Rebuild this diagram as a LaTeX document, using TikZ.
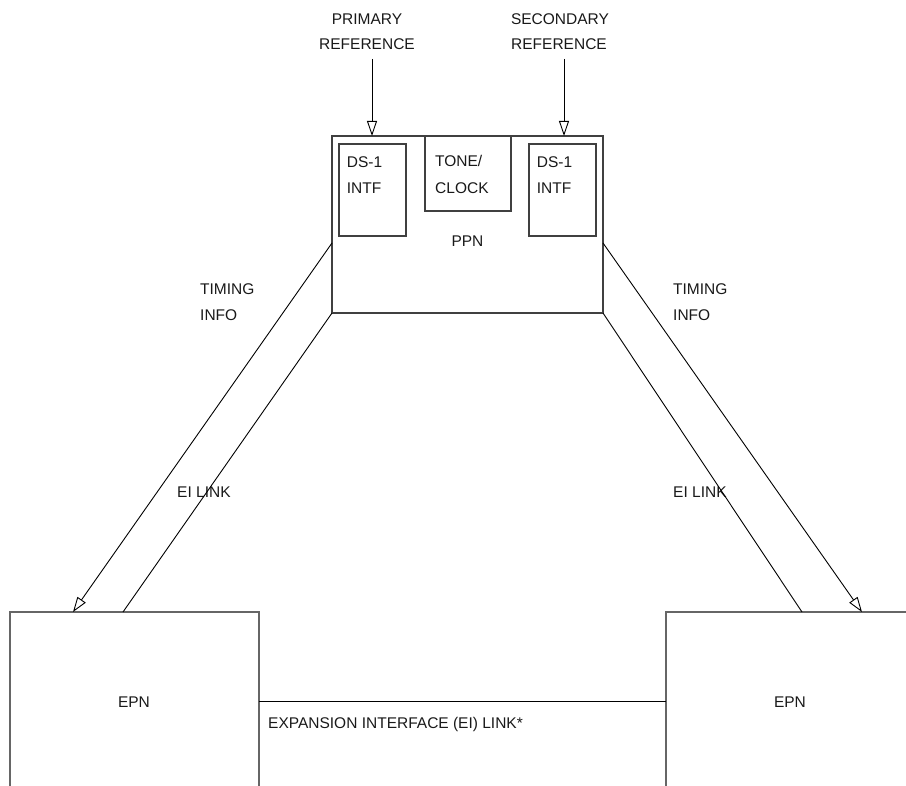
\documentclass[tikz,border=0pt]{standalone}
\usepackage{fontspec}
\setmainfont{Liberation Sans}
\usetikzlibrary{arrows.meta}
\begin{document}
\begin{tikzpicture}[x=1pt,y=-1pt,
  lbl/.style={inner sep=0pt, font=\fontsize{15.5}{19}\selectfont, text=black!90},
  lblw/.style={lbl, anchor=base west},
  lblc/.style={lbl, anchor=base},
  box/.style={draw=black!75, line width=1.1pt, inner sep=0pt},
  openbox/.style={draw=black!60, line width=1.3pt},
  wire/.style={draw=black, line width=0.9pt},
  arr/.style={wire, -{Triangle[open, length=15pt, width=10pt, line width=0.9pt]}}
]
\useasboundingbox (0,0) rectangle (906,786);
\fill[white] (0,0) rectangle (906,786);

% PPN box and inner boxes
\node[box, minimum width=271pt, minimum height=177pt] (ppn) at (467.5,224.5) {};
\node[box, minimum width=67pt, minimum height=92pt] (dsl) at (372.5,190) {};
\node[box, minimum width=86pt, minimum height=75pt] (tone) at (468,173.5) {};
\node[box, minimum width=67pt, minimum height=92pt] (dsr) at (562.5,190) {};

% EPN boxes (open at the bottom / right)
\draw[openbox] (10,786) -- (10,612) -- (259,612) -- (259,786);
\draw[openbox] (906,612) -- (666,612) -- (666,786);
\coordinate (epnlR) at (259,701);
\coordinate (epnrL) at (666,701);

% texts
\node[lblc] (prim1) at (367,25) {PRIMARY};
\node[lblc] (prim2) at (367,50) {REFERENCE};
\node[lblc] (sec1) at (560,25) {SECONDARY};
\node[lblc] (sec2) at (559,50) {REFERENCE};
\node[lblw] (dsl1) at (346.7,168) {DS-1};
\node[lblw] (dsl2) at (346.7,194) {INTF};
\node[lblw] (tone1) at (435,167) {TONE/};
\node[lblw] (tone2) at (435,194) {CLOCK};
\node[lblw] (dsr1) at (536.7,168) {DS-1};
\node[lblw] (dsr2) at (536.7,194) {INTF};
\node[lblc] (ppnt) at (467.5,247) {PPN};
\node[lblw] (tl1) at (200,295) {TIMING};
\node[lblw] (tl2) at (200,321) {INFO};
\node[lblw] (tr1) at (673,295) {TIMING};
\node[lblw] (tr2) at (673,321) {INFO};
\node[lblw] (eil) at (177,498) {EI LINK};
\node[lblw] (eir) at (673,498) {EI LINK};
\node[lblc] (epnl) at (134,707) {EPN};
\node[lblc] (epnr) at (790,707) {EPN};
\node[lblw] (exp) at (268,728) {EXPANSION INTERFACE (EI) LINK*};

% connector end points
\coordinate (pin) at (372,59);
\coordinate (sin) at (564,59);
\coordinate (pto) at (372,136);
\coordinate (sto) at (564,136);
\coordinate (ppnLt) at (332,243);
\coordinate (ppnLb) at (332,313);
\coordinate (ppnRt) at (603,243);
\coordinate (ppnRb) at (603,313);
\coordinate (epnlA) at (73,612);
\coordinate (epnlB) at (123,612);
\coordinate (epnrA) at (862,612);
\coordinate (epnrB) at (802,612);

% connectors
\draw[arr] (pin) -- (pto);
\draw[arr] (sin) -- (sto);
\draw[arr] (ppnLt) -- (epnlA);
\draw[wire] (ppnLb) -- (epnlB);
\draw[arr] (ppnRt) -- (epnrA);
\draw[wire] (ppnRb) -- (epnrB);
\draw[wire] (epnlR) -- (epnrL);
\end{tikzpicture}
\end{document}
